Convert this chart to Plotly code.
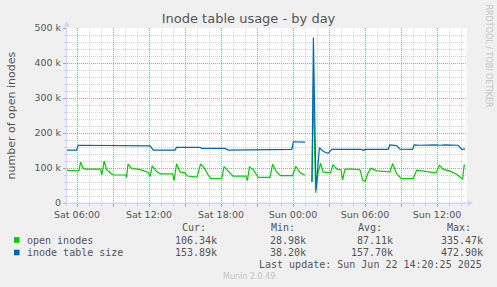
import pandas as pd
import plotly.graph_objects as go

# ---------------- data (minutes since Sat 2025-06-21 00:00, values in thousands) -------------
BASE = pd.Timestamp("2025-06-21 00:00")

open_minutes = [310, 335, 345, 360, 370, 378, 390, 400, 478, 484, 496, 508, 525, 540,
                604, 608, 615, 634, 665, 685, 716, 726, 736, 758, 778, 838, 845, 858,
                875, 898, 912, 955, 960, 978, 998, 1016, 1028, 1084, 1095, 1115, 1140,
                1205, 1212, 1222, 1242, 1266, 1325, 1338, 1356, 1378, 1438, 1454, 1474,
                1500, 1515, 1535, 1542, 1553, 1566, 1578, 1590, 1628, 1640, 1662, 1680,
                1688, 1700, 1740, 1775, 1788, 1800, 1816, 1830, 1860, 1925, 1938, 1958,
                1980, 2042, 2058, 2108, 2155, 2172, 2192, 2225, 2258, 2288, 2296, 2300]
open_values_k = [93, 92, 93, 92, 93, 117, 100, 97, 97, 80, 120, 95, 87, 80,
                 80, 73, 111, 98, 97, 94, 87, 76, 106, 90, 83, 83, 64, 112,
                 89, 87, 77, 76, 74, 112, 98, 80, 70, 70, 104, 92, 77,
                 77, 64, 103, 95, 73, 73, 111, 90, 78, 78, 105, 88,
                 79, None, 61, 335, 29, 88, 114, 89, 86, 109, 96, 95,
                 66, 97, 97, 95, 66, 61, 87, 99, 92, 89, 113, 84,
                 70, 70, 94, 90, 86, 108, 96, 91, 82, 68, 109, 106.34]

table_minutes = [310, 358, 366, 510, 520, 530, 575, 585, 615, 622, 725, 742, 850, 858,
                 975, 985, 1100, 1116, 1250, 1255, 1434, 1442, 1500, 1515, 1535, 1542,
                 1555, 1572, 1592, 1616, 1634, 1784, 1792, 1800, 1916, 1924, 1958, 1975,
                 2038, 2046, 2075, 2100, 2150, 2175, 2200, 2266, 2284, 2300]
table_values_k = [151, 151, 165, 165, 164, 165, 165, 164.5, 165, 163, 163, 151, 151, 159,
                  159, 156, 156, 151, 151, 153, 153, 175, 174, None, 60, 473,
                  38, 158, 147, 142, 153, 153, 150, 153, 153, 166, 164, 154,
                  153, 166, 165, 166, 166, 165, 166, 165, 153, 153.89]

y_tick_vals = [0, 100, 200, 300, 400, 500]
y_tick_text = ["0", "100 k", "200 k", "300 k", "400 k", "500 k"]
x_tick_hours = [6, 9, 12, 15, 18, 21, 24, 27, 30, 33, 36]
x_tick_text = ["Sat 06:00", "", "Sat 12:00", "", "Sat 18:00", "", "Sun 00:00", "",
               "Sun 06:00", "", "Sun 12:00"]

series_names = ["open inodes", "inode table size"]
series_colors = ["#00CC00", "#0066B3"]
stat_headers = ["Cur:", "Min:", "Avg:", "Max:"]
stats_open = ["106.34k", "28.98k", "87.11k", "335.47k"]
stats_table = ["153.89k", "38.20k", "157.70k", "472.90k"]
last_update = "Last update: Sun Jun 22 14:20:25 2025"

# ---------------- geometry helpers -------------
W, H = 497, 287
L, R, T, B = 67, 467, 28, 203


def px(x):
    return (x - L) / (R - L)


def py(y):
    return (B - y) / (B - T)


def to_time(mins):
    return [BASE + pd.Timedelta(minutes=m) for m in mins]


fig = go.Figure()
fig.add_trace(go.Scatter(x=to_time(open_minutes), y=open_values_k, mode="lines",
                         line=dict(color=series_colors[0], width=1.2),
                         connectgaps=False, name=series_names[0]))
fig.add_trace(go.Scatter(x=to_time(table_minutes), y=table_values_k, mode="lines",
                         line=dict(color=series_colors[1], width=1.2),
                         connectgaps=False, name=series_names[1]))

MAJ = "rgba(230,80,80,0.55)"
MIN = "rgba(160,160,160,0.45)"
AXIS = "#CFD6F8"
FONT = "#555555"

fig.update_layout(
    width=W, height=H,
    margin=dict(l=L, r=W - R, t=T, b=H - B),
    paper_bgcolor="#F0F0F0", plot_bgcolor="#FFFFFF",
    showlegend=False,
    font=dict(family="DejaVu Sans", color=FONT, size=9.5),
    title=dict(text="Inode table usage - by day", x=0.5, xref="container",
               y=1 - 18.5 / H, yref="container", xanchor="center", yanchor="middle",
               font=dict(family="DejaVu Sans", size=13, color=FONT)),
)

fig.update_xaxes(
    type="date",
    range=[BASE + pd.Timedelta(minutes=310), BASE + pd.Timedelta(minutes=2310)],
    tickvals=[BASE + pd.Timedelta(hours=h) for h in x_tick_hours],
    ticktext=x_tick_text,
    showgrid=True, gridcolor=MAJ, griddash="1px,1px", gridwidth=1,
    ticks="outside", ticklen=3, tickcolor=MAJ,
    minor=dict(dtick=3600000, tick0=BASE, showgrid=True, gridcolor=MIN,
               griddash="1px,1px", ticks="outside", ticklen=2, tickcolor=MIN),
    showline=True, linecolor=AXIS, linewidth=1,
    zeroline=False, fixedrange=True,
    tickfont=dict(size=9.5, color=FONT),
)
fig.update_yaxes(
    range=[0, 500],
    tickvals=y_tick_vals, ticktext=y_tick_text,
    showgrid=True, gridcolor=MAJ, griddash="1px,1px", gridwidth=1,
    ticks="outside", ticklen=3, tickcolor=MAJ,
    minor=dict(dtick=20, showgrid=True, gridcolor=MIN, griddash="1px,1px",
               ticks="outside", ticklen=2, tickcolor=MIN),
    showline=True, linecolor=AXIS, linewidth=1,
    zeroline=False, fixedrange=True,
    tickfont=dict(size=9.5, color=FONT),
)

shapes = []
# axis arrows
shapes.append(dict(type="path", xref="paper", yref="paper",
                   path=f"M {px(63.5)} {py(26.5)} L {px(69.5)} {py(26.5)} L {px(66.5)} {py(21)} Z",
                   fillcolor=AXIS, line=dict(width=0)))
shapes.append(dict(type="line", xref="paper", yref="paper", x0=px(66.5), x1=px(66.5),
                   y0=py(206), y1=py(26), line=dict(color=AXIS, width=1)))
shapes.append(dict(type="path", xref="paper", yref="paper",
                   path=f"M {px(467.5)} {py(200)} L {px(467.5)} {py(206)} L {px(473)} {py(203)} Z",
                   fillcolor=AXIS, line=dict(width=0)))
shapes.append(dict(type="line", xref="paper", yref="paper", x0=px(63.5), x1=px(468),
                   y0=py(203), y1=py(203), line=dict(color=AXIS, width=1)))
# legend swatches
for i, yc in enumerate([240, 252.5]):
    shapes.append(dict(type="rect", xref="paper", yref="paper",
                       x0=px(14), x1=px(19.5), y0=py(yc - 2.8), y1=py(yc + 2.8),
                       fillcolor=series_colors[i], line=dict(width=0)))
fig.update_layout(shapes=shapes)

ann = []


def text(x, y, s, anchor="left", size=10, family="DejaVu Sans Mono", color=FONT, angle=0):
    ann.append(dict(x=px(x), y=py(y), xref="paper", yref="paper", text=s, showarrow=False,
                    xanchor=anchor, yanchor="middle", textangle=angle,
                    borderpad=0, borderwidth=0,
                    font=dict(family=family, size=size, color=color)))


text(11, 115.5, "number of open inodes", anchor="center", size=11,
     family="DejaVu Sans", angle=-90)
text(488.5, 56, "RRDTOOL / TOBI OETIKER", anchor="center", size=8,
     family="DejaVu Sans", color="#C4C4C4", angle=90)

header_left = [182, 271, 358, 447]
value_right = [217, 306, 393, 483]
for hx, h in zip(header_left, stat_headers):
    text(hx, 227, h, anchor="left")
text(27, 240, series_names[0])
text(27, 252.5, series_names[1])
for vx, s in zip(value_right, stats_open):
    text(vx, 240, s, anchor="right")
for vx, s in zip(value_right, stats_table):
    text(vx, 252.5, s, anchor="right")
text(482, 264.5, last_update, anchor="right")
text(248.5, 276.5, "Munin 2.0.49", anchor="center", size=8, family="DejaVu Sans",
     color="#C4C4C4")
fig.update_layout(annotations=ann)

fig.write_html("out.html")
